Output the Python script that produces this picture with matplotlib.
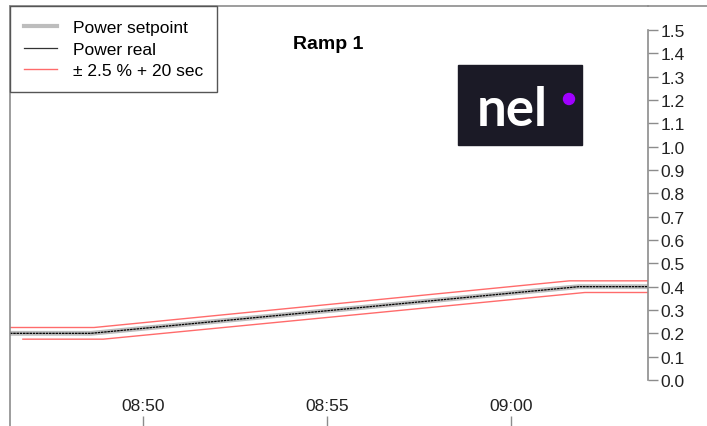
import pandas as pd
import matplotlib
matplotlib.use('Agg')
import matplotlib.pyplot as plt
import matplotlib.dates as mdates
from matplotlib.lines import Line2D
from matplotlib.patches import Rectangle, Ellipse

plt.rcParams['font.family'] = ['Liberation Sans', 'DejaVu Sans']

day = '2023-01-01 '

# setpoint / real power (p.u.)
sp_times = ['08:46:23', '08:48:35', '09:01:50', '09:03:43']
sp_values = [0.2, 0.2, 0.4, 0.4]

# tolerance band +-2.5 % + 20 sec
upper_times = ['08:46:23', '08:48:40', '09:01:35', '09:03:43']
upper_values = [0.225, 0.225, 0.425, 0.425]
lower_times = ['08:46:44', '08:48:55', '09:02:00', '09:03:43']
lower_values = [0.175, 0.175, 0.375, 0.375]

y_ticks = [round(i * 0.1, 1) for i in range(16)]

def to_dt(lst):
    return pd.to_datetime([day + t for t in lst])

W, H = 707, 427
fig = plt.figure(figsize=(W / 100, H / 100), dpi=100)
ax = fig.add_axes([10 / W, 0, (648 - 10) / W, (H - 7) / H])

spine_col = '#8c8c8c'
ax.plot(to_dt(sp_times), sp_values, color='#bdbdbd', lw=3.5, solid_capstyle='butt')
ax.plot(to_dt(sp_times), sp_values, color='black', lw=0.9, ls=(0, (2, 0.6)))
ax.plot(to_dt(upper_times), upper_values, color='#ff6b6b', lw=1.0)
ax.plot(to_dt(lower_times), lower_values, color='#ff6b6b', lw=1.0)

ax.set_xlim(pd.Timestamp(day + '08:46:23'), pd.Timestamp(day + '09:03:43'))
ax.set_ylim(-46 / 233.33, 1.5 + 24 / 233.33)

ax.xaxis.set_major_locator(mdates.MinuteLocator(byminute=[50, 55, 0]))
ax.xaxis.set_major_formatter(mdates.DateFormatter('%H:%M'))
ax.tick_params(axis='x', direction='in', length=7.2, width=1, color=spine_col,
               pad=-20.5, labelsize=12.5, labelcolor='#222222')

ax.yaxis.tick_right()
ax.set_yticks(y_ticks)
ax.set_yticklabels([f'{v:.1f}' for v in y_ticks])
ax.tick_params(axis='y', direction='out', length=7.5, width=1, color=spine_col,
               pad=1.5, labelsize=12.5, labelcolor='#222222')

ax.spines['bottom'].set_visible(False)
ax.spines['right'].set_bounds(0, 1.5)
for s in ['left', 'right', 'top']:
    ax.spines[s].set_color(spine_col)
    ax.spines[s].set_linewidth(1.2)

# top frame line continues to the figure edge
fig.add_artist(Line2D([648 / W, 1], [(H - 7) / H, (H - 7) / H], color=spine_col, lw=1.2))

handles = [Line2D([], [], color='#bdbdbd', lw=3),
           Line2D([], [], color='#333333', lw=0.9),
           Line2D([], [], color='#ff6b6b', lw=1.0)]
labels = ['Power setpoint', 'Power real', '\u00b1 2.5 % + 20 sec']
leg = ax.legend(handles, labels, loc='upper left', bbox_to_anchor=(0, 1), borderaxespad=0,
                fancybox=False, edgecolor='#555555', fontsize=12.5, handlelength=1.9,
                handletextpad=0.9, labelspacing=0.36, borderpad=0.82, framealpha=1)
leg.get_frame().set_linewidth(1.0)

ax.set_title('Ramp 1', fontsize=14, fontweight='bold', x=(328 - 10) / 638,
             y=1 - (57 - 7) / 420)

# nel logo
fig.add_artist(Rectangle((458 / W, 1 - 146 / H), 124 / W, 80 / H, color='#1b1a26',
                         transform=fig.transFigure))
fig.text(512 / W, 1 - 110 / H, 'nel', color='white', fontsize=38, ha='center', va='center',
         family='Lato', fontweight='bold')
fig.add_artist(Ellipse((569 / W, 1 - 100 / H), 11 / W, 11 / H, color='#a000ff',
                       transform=fig.transFigure))

fig.savefig('out.png', dpi=100)
